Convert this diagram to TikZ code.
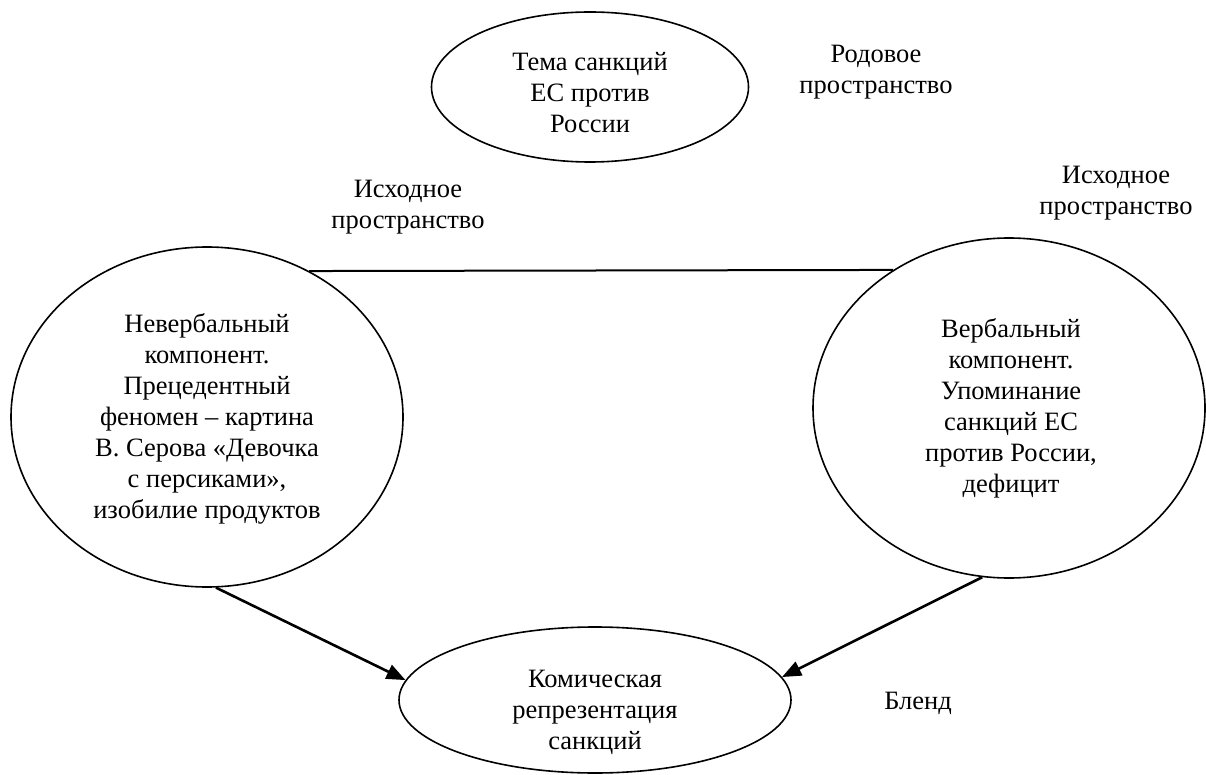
\documentclass[tikz,border=0pt]{standalone}
\usepackage{fontspec}
\setmainfont{Liberation Serif}
\usetikzlibrary{shapes.geometric,arrows.meta}
\begin{document}
\begin{tikzpicture}[x=1pt,y=-1pt,
  ell/.style={draw, ellipse, line width=1.6pt, inner sep=0pt},
  txt/.style={align=center, font=\fontsize{26.5}{31}\selectfont, inner sep=0pt},
  conn/.style={line width=2pt},
  arr/.style={line width=2.6pt, -{Triangle[length=19pt,width=15pt]}}]
\useasboundingbox (0,0) rectangle (1206,775);
% ellipses
\node[ell, minimum width=317pt, minimum height=150pt] (T) at (590,87) {};
\node[ell, minimum width=392pt, minimum height=340pt] (L) at (207,417) {};
\node[ell, minimum width=392pt, minimum height=340pt] (R) at (1009,408) {};
\node[ell, minimum width=392pt, minimum height=146pt] (B) at (595,700) {};
% texts in ellipses
\node[txt] (Tt) at (590,93) {Тема санкций\\ЕС против\\России};
\node[txt] (Lt) at (207,419) {Невербальный\\компонент.\\Прецедентный\\феномен – картина\\В. Серова «Девочка\\с персиками»,\\изобилие продуктов};
\node[txt] (Rt) at (1011,408) {Вербальный\\компонент.\\Упоминание\\санкций ЕС\\против России,\\дефицит};
\node[txt] (Bt) at (595,712) {Комическая\\репрезентация\\санкций};
% labels
\node[txt] (gen) at (876,72) {Родовое\\пространство};
\node[txt] (in1) at (408,207) {Исходное\\пространство};
\node[txt] (in2) at (1116,193) {Исходное\\пространство};
\node[txt] (blend) at (918,703) {Бленд};
% connectors
\draw[conn] (L.55.6) -- (R.130.3);
\draw[arr] (L.-87.3) -- (B.174.6);
\draw[arr] (R.261) -- (B.7);
\end{tikzpicture}
\end{document}
